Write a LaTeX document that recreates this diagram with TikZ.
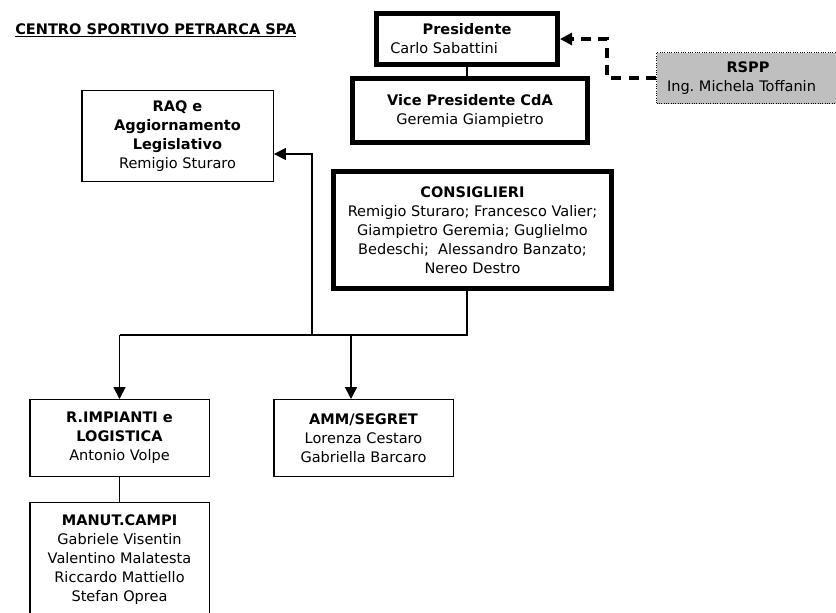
\documentclass[tikz,border=0pt]{standalone}
\usepackage{fontspec}
\setmainfont{DejaVu Sans}
\usetikzlibrary{arrows.meta, positioning}

\begin{document}
\begin{tikzpicture}[
        x=0.75pt, y=-0.75pt,
        >={Triangle[length=9pt,width=9pt]},
        every node/.style={font=\fontsize{10.9}{14.25}\selectfont, align=center, inner sep=0pt},
        unit/.style={rectangle, draw, line width=1.1pt, fill=white, minimum width=134.6pt, minimum height=57.4pt},
        board/.style={rectangle, draw, line width=4pt, fill=white},
        staff/.style={rectangle, draw, densely dotted, line width=0.75pt, fill=black!25},
        link/.style={line width=1.2pt},
        advice/.style={line width=2.3pt, dash pattern=on 7.5pt off 5.5pt}
    ]

    \clip (0,0) rectangle (836,612);
    \fill[white] (0,0) rectangle (836,612);

    \node (title) [anchor=base west] at (15,34) {\textbf{\underline{CENTRO SPORTIVO PETRARCA SPA}}};

    % vertici
    \node (pres) [board, minimum width=135.5pt, minimum height=38pt] at (467,39)
        {\textbf{Presidente}\\\makebox[115pt][l]{Carlo Sabattini}};
    \node (vice) [board, minimum width=176pt, minimum height=47.8pt] at (470,110.5)
        {\textbf{Vice Presidente CdA}\\Geremia Giampietro};
    \node (cons) [board, minimum width=208.3pt, minimum height=87.5pt] at (472.5,230)
        {\textbf{CONSIGLIERI}\\Remigio Sturaro; Francesco Valier;\\Giampietro Geremia; Guglielmo\\Bedeschi;\ \ Alessandro Banzato;\\Nereo Destro};
    \node (rspp) [staff, minimum width=137.25pt, minimum height=38.25pt] at (748,78)
        {\textbf{RSPP}\\\makebox[121.5pt][l]{Ing.\ Michela Toffanin}};

    % funzioni
    \node (raq) [unit, minimum width=143.6pt, minimum height=67.9pt] at (177.5,136)
        {\textbf{RAQ e}\\\textbf{Aggiornamento}\\\textbf{Legislativo}\\Remigio Sturaro};
    \node (imp) [unit] at (119.5,438)
        {\textbf{R.IMPIANTI e}\\\textbf{LOGISTICA}\\Antonio Volpe};
    \node (amm) [unit] at (363.5,438)
        {\textbf{AMM/SEGRET}\\Lorenza Cestaro\\Gabriella Barcaro};
    \node (manut) [unit, minimum height=85.9pt] at (119.5,560)
        {\textbf{MANUT.CAMPI}\\Gabriele Visentin\\Valentino Malatesta\\Riccardo Mattiello\\Stefan Oprea};

    \coordinate (bus) at (467,335);
    \coordinate (raqtap) at (312,335);
    \coordinate (ammtap) at (351,335);

    \draw [link] (pres.south) -- (pres.south |- vice.north);
    \draw [link] (cons.south -| bus) -- (bus) -- (bus -| imp.north);
    \draw [link, ->] (bus -| imp.north) -- (imp.north);
    \draw [link, ->] (ammtap) -- (ammtap |- amm.north);
    \draw [link, ->] (raqtap) |- ([yshift=-13.5pt]raq.east);
    \draw [link] (imp.south) -- (manut.north);
    \draw [advice, ->] (rspp.west) -- ++(-49,0) |- (pres.east);

\end{tikzpicture}
\end{document}
